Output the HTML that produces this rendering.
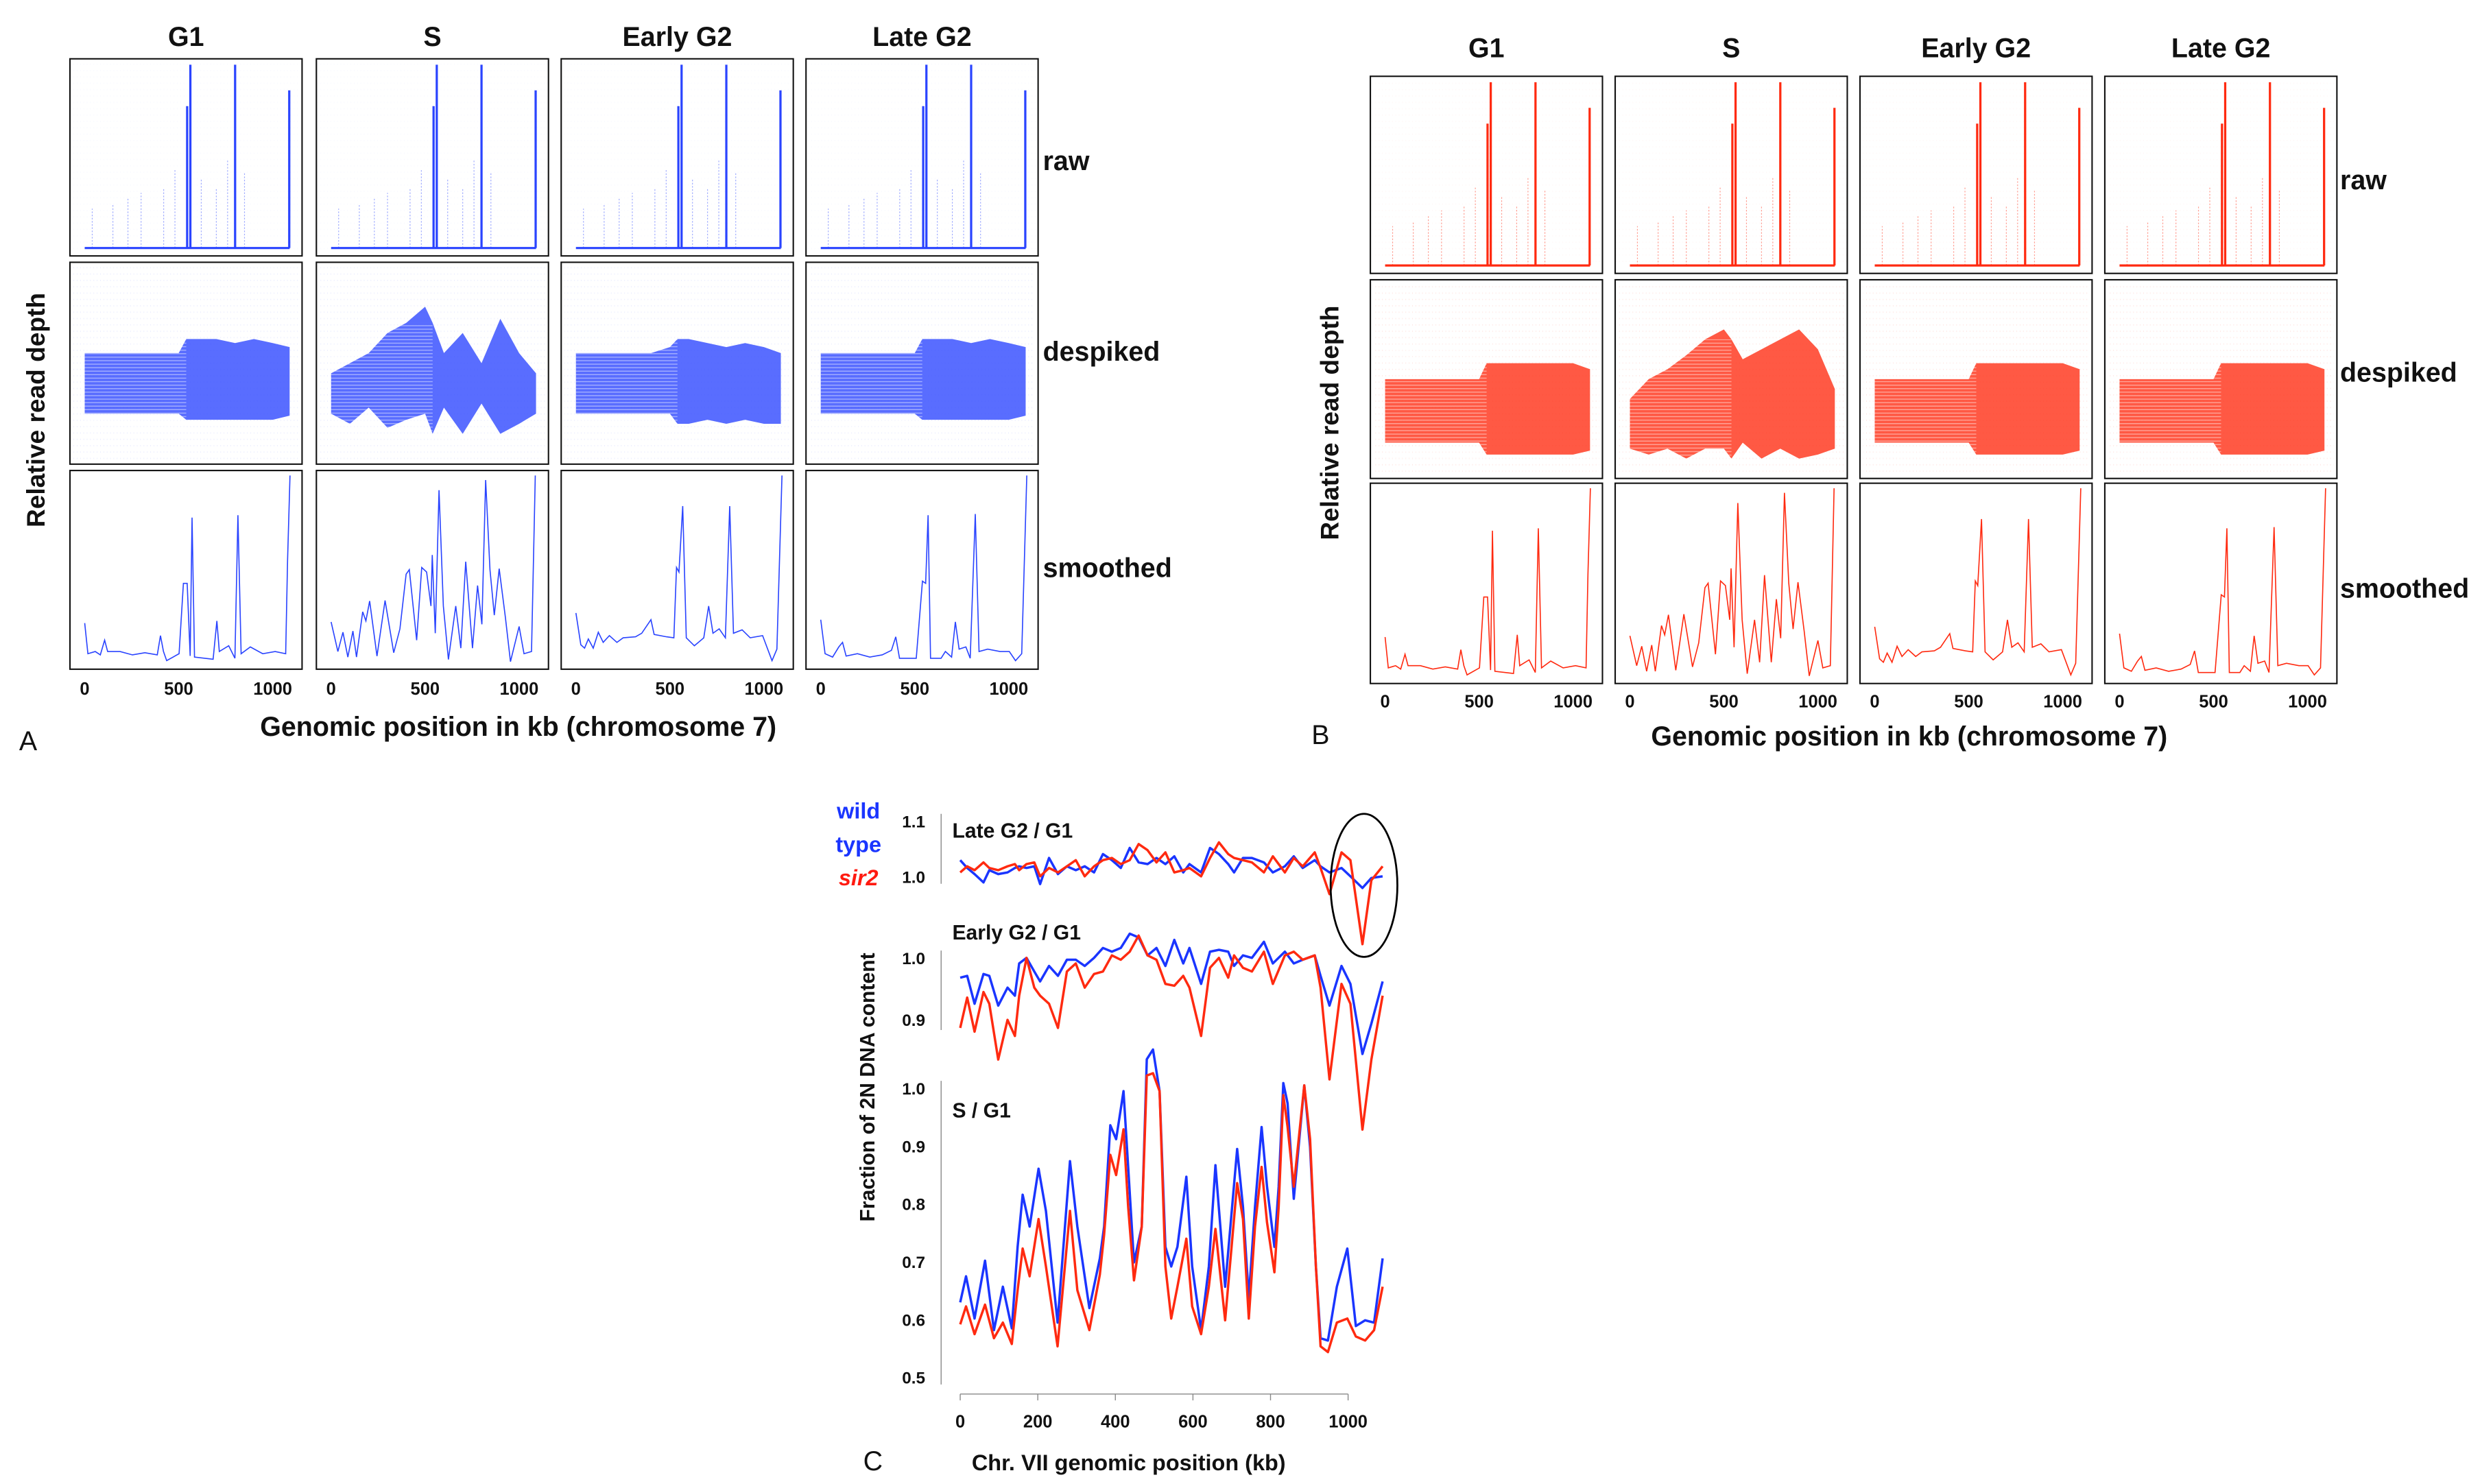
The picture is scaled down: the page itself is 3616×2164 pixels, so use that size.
<!DOCTYPE html>
<html><head><meta charset="utf-8">
<style>
html,body{margin:0;padding:0;background:#fff;}
svg{display:block;font-family:"Liberation Sans",sans-serif;}
.t{font-weight:bold;fill:#111;}
</style></head>
<body>
<svg id="fig" width="3616" height="2164" viewBox="0 0 1560 933.6" xmlns="http://www.w3.org/2000/svg">
<defs>
<pattern id="vdotB" width="2.1" height="4" patternUnits="userSpaceOnUse"><rect width="0.35" height="0.8" fill="#2a44ff" opacity="0.35"/></pattern>
<pattern id="vdotR" width="2.1" height="4" patternUnits="userSpaceOnUse"><rect width="0.35" height="0.8" fill="#ff2a10" opacity="0.4"/></pattern>
<pattern id="hstr" width="4" height="2.2" patternUnits="userSpaceOnUse"><rect width="4" height="0.6" fill="#fff" opacity="0.45"/></pattern>
</defs>
<g id="panelA"></g>
<g id="panelB"></g>
<g id="panelC"></g>

<text class="t" x="12" y="472" font-size="17" style="font-weight:normal">A</text>
<text class="t" x="825" y="468" font-size="17" style="font-weight:normal">B</text>
<text class="t" x="543" y="925" font-size="17" style="font-weight:normal">C</text>
<text class="t" x="326" y="463" font-size="17" text-anchor="middle">Genomic position in kb  (chromosome 7)</text>
<text class="t" x="1201" y="469" font-size="17" text-anchor="middle">Genomic position in kb  (chromosome 7)</text>
<text class="t" transform="translate(28,258) rotate(-90)" font-size="16" text-anchor="middle">Relative  read depth</text>
<text class="t" transform="translate(842,266) rotate(-90)" font-size="16" text-anchor="middle">Relative  read depth</text>
<text class="t" x="710" y="925" font-size="14" text-anchor="middle">Chr. VII genomic position (kb)</text>
<text class="t" transform="translate(550,684) rotate(-90)" font-size="13" text-anchor="middle">Fraction of 2N DNA content</text>
<text class="t" x="540" y="515" font-size="14" text-anchor="middle" style="fill:#1a35ff">wild</text>
<text class="t" x="540" y="536" font-size="14" text-anchor="middle" style="fill:#1a35ff">type</text>
<text class="t" x="540" y="557" font-size="14" text-anchor="middle" font-style="italic" style="fill:#ff1a10">sir2</text>
<text class="t" x="599" y="527" font-size="13">Late G2 / G1</text>
<text class="t" x="599" y="591" font-size="13">Early G2 / G1</text>
<text class="t" x="599" y="703" font-size="13">S / G1</text>
<ellipse cx="858" cy="557" rx="21" ry="45" fill="none" stroke="#000" stroke-width="1.2"/>
</svg>
<script>
// ---------- Panel A/B data ----------
const stages = ["G1","S","Early G2","Late G2"];
const tickKb = [0,500,1000];
const smoothKbG1 = [0,17,56,83,106,122,188,254,320,386,403,419,436,502,525,545,561,571,584,683,703,716,766,799,815,832,881,947,1013,1069,1079,1092];
const smoothValG1 = [.232,.078,.089,.072,.146,.089,.089,.072,.083,.072,.169,.089,.043,.078,.432,.432,.067,.763,.061,.050,.243,.089,.118,.055,.775,.078,.112,.078,.089,.078,.546,.975];
const smoothKbS = [0,36,63,89,116,135,168,185,205,244,287,333,366,399,416,455,482,508,531,538,554,574,597,624,663,690,716,752,779,802,822,845,868,894,927,954,1000,1026,1066,1086];
const smoothValS = [.238,.089,.186,.061,.192,.061,.289,.243,.343,.066,.346,.083,.203,.478,.501,.146,.512,.489,.318,.575,.181,.901,.318,.049,.318,.106,.541,.106,.421,.226,.952,.501,.272,.506,.261,.038,.215,.078,.089,.975];
const smoothKbE = [0,26,46,66,92,119,145,178,218,251,317,350,399,416,482,521,535,548,568,587,630,680,706,729,762,795,818,838,884,927,993,1043,1069,1096];
const smoothValE = [.283,.123,.106,.152,.106,.186,.135,.169,.135,.158,.163,.181,.249,.175,.163,.158,.512,.489,.821,.158,.118,.158,.318,.181,.203,.158,.821,.181,.198,.158,.169,.043,.101,.975];
const smoothKbL = [0,23,63,96,116,135,195,261,327,376,399,419,508,541,558,571,584,640,663,696,716,736,772,795,822,842,888,954,1003,1036,1069,1096];
const smoothValL = [.249,.078,.061,.112,.135,.066,.078,.061,.072,.095,.163,.055,.055,.443,.432,.775,.055,.055,.089,.061,.238,.101,.112,.055,.781,.089,.101,.089,.089,.043,.078,.975];
const rawKb = [545,562,800,1088,150,300,420,480,620,700,760,850,40,230];
const rawH = [0.72,0.93,0.93,0.8,0.22,0.28,0.3,0.4,0.35,0.3,0.45,0.38,0.2,0.25];
const denseKb = [0,100,200,300,400,500,540,600,700,800,900,1000,1090];
const denseTopG1 = [.45,.45,.45,.45,.45,.45,.38,.38,.38,.40,.38,.40,.42];
const denseBotG1 = [.75,.75,.75,.75,.75,.75,.78,.78,.78,.78,.78,.78,.76];
const denseTopS = [.55,.5,.45,.35,.3,.22,.3,.45,.35,.5,.28,.45,.55];
const denseBotS = [.75,.8,.72,.82,.78,.75,.85,.72,.85,.7,.85,.8,.75];
const denseTopE = [.45,.45,.45,.45,.45,.42,.38,.38,.4,.42,.4,.42,.45];
const denseBotE = [.75,.75,.75,.75,.75,.75,.8,.8,.78,.8,.78,.8,.8];
const denseTopBS = [.6,.5,.45,.38,.3,.25,.3,.4,.35,.3,.25,.35,.55];
const denseBotBS = [.85,.88,.85,.9,.85,.85,.9,.82,.9,.85,.9,.88,.85];
const denseTopBG = [.5,.5,.5,.5,.5,.5,.42,.42,.42,.42,.42,.42,.45];
const denseBotBG = [.82,.82,.82,.82,.82,.82,.88,.88,.88,.88,.88,.88,.86];

// ---------- Panel C data ----------
const cKbS = [0,15,37,64,87,110,133,148,161,179,202,221,251,283,302,333,360,371,387,402,421,433,448,468,481,497,514,529,544,560,583,598,621,641,658,683,714,729,744,760,777,791,810,821,833,844,860,887,902,917,929,948,971,998,1020,1044,1067,1089];
const sWt = [.631,.676,.603,.703,.583,.658,.586,.727,.817,.762,.862,.789,.596,.875,.762,.621,.707,.762,.937,.913,.996,.865,.700,.762,1.051,1.068,.996,.727,.693,.727,.848,.693,.583,.693,.868,.658,.896,.796,.638,.796,.934,.831,.727,.831,1.010,.975,.810,1.006,.899,.693,.569,.565,.658,.724,.590,.600,.596,.707];
const sSir2 = [.593,.624,.576,.627,.569,.596,.559,.652,.724,.676,.775,.693,.555,.789,.652,.583,.679,.748,.886,.851,.930,.796,.669,.762,1.023,1.027,.996,.693,.603,.658,.741,.624,.576,.658,.758,.600,.837,.775,.603,.762,.865,.769,.683,.796,.989,.934,.831,1.006,.913,.693,.555,.545,.596,.603,.572,.565,.583,.658];
const cKbG2 = [0,18,37,60,75,98,122,141,152,171,191,206,229,252,275,298,321,345,368,391,414,437,460,483,506,529,552,575,591,621,644,667,691,706,729,752,783,806,837,860,883,914,929,952,983,1006,1037,1060,1089];
const earlyWt = [.969,.972,.927,.975,.972,.924,.953,.940,.992,1.001,.979,.963,.988,.972,.998,.998,.988,1.001,1.017,1.011,1.017,1.040,1.034,1.005,1.017,.988,1.030,.992,1.017,.959,1.011,1.014,1.011,.988,1.005,1.001,1.027,.992,1.011,.992,.998,1.005,.972,.924,.988,.959,.846,.895,.963];
const earlySir2 = [.888,.937,.882,.946,.927,.837,.901,.875,.940,1.001,.953,.940,.927,.888,.979,.992,.953,.975,.979,1.005,.998,1.011,1.037,1.005,.998,.959,.956,.972,.953,.875,.985,1.001,.969,1.005,.985,.979,1.011,.959,1.005,1.011,.998,1.005,.953,.805,.959,.927,.724,.837,.940];
const lateWt = [1.031,1.017,1.006,.991,1.013,1.006,1.009,1.017,1.020,1.017,1.020,.988,1.035,1.006,1.020,1.013,1.020,1.009,1.042,1.031,1.017,1.053,1.027,1.024,1.035,1.024,1.038,1.009,1.024,1.009,1.053,1.042,1.024,1.009,1.035,1.035,1.027,1.009,1.020,1.038,1.017,1.031,1.020,1.009,1.017,1.002,.981,.999,1.002];
const lateSir2 = [1.009,1.020,1.013,1.027,1.017,1.013,1.020,1.024,1.013,1.024,1.027,1.002,1.017,1.009,1.020,1.031,1.002,1.020,1.031,1.035,1.024,1.031,1.060,1.049,1.027,1.045,1.009,1.013,1.017,1.002,1.035,1.063,1.042,1.035,1.031,1.027,1.009,1.038,1.009,1.035,1.020,1.045,1.017,.970,1.045,1.031,.880,.995,1.020];
const cTicksX = [0,200,400,600,800,1000];
const cTicksLate = [1.0,1.1];
const cTicksEarly = [0.9,1.0];
const cTicksS = [0.5,0.6,0.7,0.8,0.9,1.0];

const NS="http://www.w3.org/2000/svg";
function mk(tag, attrs, parent){const e=document.createElementNS(NS,tag);for(const k in attrs)e.setAttribute(k,attrs[k]);parent.appendChild(e);return e;}

function drawGrid(gId, colsX, rowsY, rowsH, color, dot, tickY, titleY, labelX, labelYs, denseSets){
  const g=document.getElementById(gId);
  const w=146;
  const smoothSets=[[smoothKbG1,smoothValG1],[smoothKbS,smoothValS],[smoothKbE,smoothValE],[smoothKbL,smoothValL]];
  colsX.forEach((x0,ci)=>{
    const fx=kb=>x0+w*(0.0635+kb*0.00081);
    const title=mk('text',{x:x0+w/2,y:titleY,'font-size':17,'text-anchor':'middle',class:'t'},g);
    title.textContent=stages[ci];
    
    
    let y0=rowsY[0],h=rowsH[0];
    const rawBg=mk('rect',{x:x0,y:y0+2,width:w,height:h-6,fill:`url(#${dot})`,opacity:0.12},g);
    
    
    const base=mk('line',{x1:fx(0),x2:fx(1090),y1:y0+h*0.96,y2:y0+h*0.96,stroke:color,'stroke-width':1.4},g);
    
    
    rawKb.forEach((k,i)=>{
      const sp=mk('line',{x1:fx(k),x2:fx(k),y1:y0+h*0.96,y2:y0+h*(0.96-rawH[i]),stroke:color,'stroke-width':i<4?1.4:0.5,opacity:i<4?1:0.45,'stroke-dasharray':i<4?'none':'1 1'},g);
      
      
    });
    y0=rowsY[1];h=rowsH[1];
    const dsBg=mk('rect',{x:x0+2,y:y0+3,width:w-4,height:h-6,fill:`url(#${dot})`,opacity:0.35},g);
    
    
    const [tp,bt]=denseSets[ci];
    let pts=denseKb.map((k,i)=>`${fx(k)},${y0+h*tp[i]}`);
    pts=pts.concat(denseKb.map((k,i)=>`${fx(k)},${y0+h*bt[i]}`).reverse());
    const band=mk('polygon',{points:pts.join(' '),fill:color,opacity:0.78},g);
    
    
    const str=mk('rect',{x:fx(0),y:y0+h*0.3,width:fx(540)-fx(0),height:h*0.6,fill:'url(#hstr)'},g);
    
    
    y0=rowsY[2];h=rowsH[2];
    const [sk,sv]=smoothSets[ci];
    const pl=mk('polyline',{points:sk.map((k,i)=>`${fx(k)},${y0+h*(1-sv[i])}`).join(' '),fill:'none',stroke:color,'stroke-width':0.7},g);
    
    
    rowsY.forEach((ry,ri)=>{
      const b=mk('rect',{x:x0,y:ry,width:w,height:rowsH[ri],fill:'none',stroke:'#111','stroke-width':0.9},g);
      
      
    });
    tickKb.forEach(k=>{
      const t=mk('text',{x:fx(k),y:tickY,'font-size':11,'text-anchor':'middle',class:'t'},g);
      t.textContent=k;
      
      
    });
  });
  ["raw","despiked","smoothed"].forEach((s,i)=>{
    const t=mk('text',{x:labelX,y:labelYs[i],'font-size':17,class:'t'},g);
    t.textContent=s;
    
    
  });
}
drawGrid('panelA',[44,199,353,507],[37,165,296],[124,127,125],'#2a44ff','vdotB',437,29,656,[107,227,363],
  [[denseTopG1,denseBotG1],[denseTopS,denseBotS],[denseTopE,denseBotE],[denseTopG1,denseBotG1]]);
drawGrid('panelB',[862,1016,1170,1324],[48,176,304],[124,125,126],'#ff2a10','vdotR',445,36,1472,[119,240,376],
  [[denseTopBG,denseBotBG],[denseTopBS,denseBotBS],[denseTopBG,denseBotBG],[denseTopBG,denseBotBG]]);

(function(){
  const g=document.getElementById('panelC');
  const fx=kb=>604+kb*0.244;
  const yLate=v=>552-(v-1)*350, yEarly=v=>603-(v-1)*390, yS=v=>867-(v-0.5)*364;
  function axis(ticks,fy,y1,y2,name){
    const l=mk('line',{x1:592,x2:592,y1:y1,y2:y2,stroke:'#888','stroke-width':0.6},g);
    
    
    ticks.forEach(v=>{
      const t=mk('text',{x:582,y:fy(v)+3.5,'font-size':10.5,'text-anchor':'end',class:'t'},g);
      t.textContent=v.toFixed(1);
      
      
    });
  }
  axis(cTicksLate,yLate,512,556,'late');
  axis(cTicksEarly,yEarly,598,648,'early');
  axis(cTicksS,yS,680,871,'s');
  const xa=mk('line',{x1:fx(0),x2:fx(1000),y1:877,y2:877,stroke:'#888','stroke-width':0.6},g);
  
  
  cTicksX.forEach(k=>{
    const tk=mk('line',{x1:fx(k),x2:fx(k),y1:877,y2:881,stroke:'#888','stroke-width':0.6},g);
    
    
    const t=mk('text',{x:fx(k),y:898,'font-size':11,'text-anchor':'middle',class:'t'},g);
    t.textContent=k;
    
    
  });
  function line(kbs,vals,fy,color,name){
    const p=mk('polyline',{points:kbs.map((k,i)=>`${fx(k)},${fy(vals[i])}`).join(' '),fill:'none',stroke:color,'stroke-width':1.5,'stroke-linejoin':'round'},g);
    
    
  }
  line(cKbG2,lateWt,yLate,'#1a35ff','late-wt-line');
  line(cKbG2,lateSir2,yLate,'#ff2a10','late-sir2-line');
  line(cKbG2,earlyWt,yEarly,'#1a35ff','early-wt-line');
  line(cKbG2,earlySir2,yEarly,'#ff2a10','early-sir2-line');
  line(cKbS,sWt,yS,'#1a35ff','s-wt-line');
  line(cKbS,sSir2,yS,'#ff2a10','s-sir2-line');
})();
</script>
</body></html>
